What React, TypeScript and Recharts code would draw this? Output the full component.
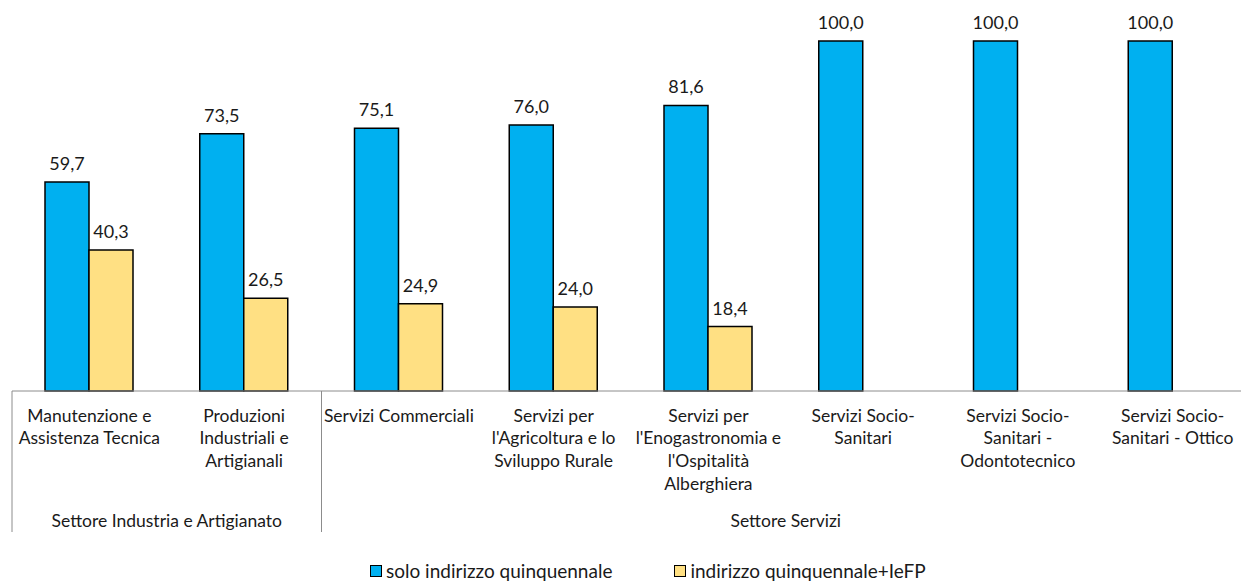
import React from 'react';
import { BarChart, Bar, XAxis, YAxis, Legend, LabelList } from 'recharts';

// Etichette delle categorie (già spezzate su più righe come nell'originale)
const categorie: string[][] = [
  ['Manutenzione e', 'Assistenza Tecnica'],
  ['Produzioni', 'Industriali e', 'Artigianali'],
  ['Servizi Commerciali'],
  ['Servizi per', "l'Agricoltura e lo", 'Sviluppo Rurale'],
  ['Servizi per', "l'Enogastronomia e", "l'Ospitalità", 'Alberghiera'],
  ['Servizi Socio-', 'Sanitari'],
  ['Servizi Socio-', 'Sanitari -', 'Odontotecnico'],
  ['Servizi Socio-', 'Sanitari - Ottico'],
];
const soloQuinquennale = [59.7, 73.5, 75.1, 76.0, 81.6, 100.0, 100.0, 100.0];
const quinquennaleIeFP: (number | null)[] = [40.3, 26.5, 24.9, 24.0, 18.4, null, null, null];

// Settori (secondo livello dell'asse)
const settori = ['Settore Industria e Artigianato', 'Settore Servizi'];
const settoreInizio = [0, 2];
const settoreFine = [1, 7];

const serieNomi = ['solo indirizzo quinquennale', 'indirizzo quinquennale+IeFP'];
const coloreBlu = '#00B0F0';
const coloreGiallo = '#FFE083';

const FONT = 'Lato, "Open Sans", sans-serif';

const data = categorie.map((_, i) => ({
  id: String(i),
  solo: soloQuinquennale[i],
  ieFP: quinquennaleIeFP[i],
}));

const fmt = (v: any) => (v == null ? '' : Number(v).toFixed(1).replace('.', ','));

const CategoryTick = (props: any) => {
  const { x, y, payload } = props;
  const i = Number(payload.value);
  const half = payload.offset ?? 77.4;
  const righe = categorie[i];
  const g = settoreInizio.indexOf(i);
  const gEnd = settoreFine.indexOf(i);
  return (
    <g>
      {righe.map((r, k) => (
        <text
          key={k}
          x={x}
          y={y + 24 + k * 22.7}
          textAnchor="middle"
          dominantBaseline="central"
          fontFamily={FONT}
          fontSize={17.5}
          fill="#1a1a1a"
        >
          {r}
        </text>
      ))}
      {g >= 0 && (
        <>
          <line x1={x - half} x2={x - half} y1={y} y2={y + 141} stroke="#8c8c8c" strokeWidth={1} />
          <text
            x={x - half + (settoreFine[g] - settoreInizio[g] + 1) * half}
            y={y + 129}
            textAnchor="middle"
            dominantBaseline="central"
            fontFamily={FONT}
            fontSize={17.5}
            fill="#1a1a1a"
          >
            {settori[g]}
          </text>
        </>
      )}
      {gEnd >= 0 && (
        <line x1={x + half} x2={x + half} y1={y} y2={y + 141} stroke="#8c8c8c" strokeWidth={1} />
      )}
    </g>
  );
};

const LegendContent = () => (
  <div
    style={{
      display: 'flex',
      alignItems: 'center',
      height: 18,
      lineHeight: '18px',
      fontFamily: FONT,
      fontSize: 19,
      color: '#1a1a1a',
    }}
  >
    {serieNomi.map((n, i) => (
      <div key={n} style={{ display: 'flex', alignItems: 'center', marginRight: i === 0 ? 62 : 0 }}>
        <span
          style={{
            display: 'inline-block',
            width: 10,
            height: 10,
            background: i === 0 ? coloreBlu : coloreGiallo,
            border: '1px solid #000',
            marginRight: 4,
          }}
        />
        <span style={{ whiteSpace: 'nowrap' }}>{n}</span>
      </div>
    ))}
  </div>
);

const App = () => (
  <div style={{ position: 'fixed', left: 0, top: 0, width: 1241, height: 582, overflow: 'hidden', background: '#fff' }}>
    <BarChart
      width={1262}
      height={582}
      data={data}
      margin={{ top: 41, right: 12, left: 12, bottom: 0 }}
      barGap={0}
      barCategoryGap="21%"
    >
      <XAxis
        dataKey="id"
        height={173}
        interval={0}
        tickLine={false}
        tickSize={0}
        tickMargin={0}
        axisLine={{ stroke: '#8c8c8c', strokeWidth: 1 }}
        tick={<CategoryTick />}
      />
      <YAxis hide domain={[0, 100]} />
      <Legend
        verticalAlign="bottom"
        content={<LegendContent />}
        wrapperStyle={{ left: 370, bottom: 2, width: 'auto', height: 18 }}
      />
      <Bar dataKey="solo" name={serieNomi[0]} fill={coloreBlu} stroke="#000" strokeWidth={1.5} barSize={44} isAnimationActive={false}>
        <LabelList dataKey="solo" position="top" offset={12} formatter={fmt} fontFamily={FONT} fontSize={18} fill="#1a1a1a" />
      </Bar>
      <Bar dataKey="ieFP" name={serieNomi[1]} fill={coloreGiallo} stroke="#000" strokeWidth={1.5} barSize={44} isAnimationActive={false}>
        <LabelList dataKey="ieFP" position="top" offset={12} formatter={fmt} fontFamily={FONT} fontSize={18} fill="#1a1a1a" />
      </Bar>
    </BarChart>
  </div>
);

export default App;
